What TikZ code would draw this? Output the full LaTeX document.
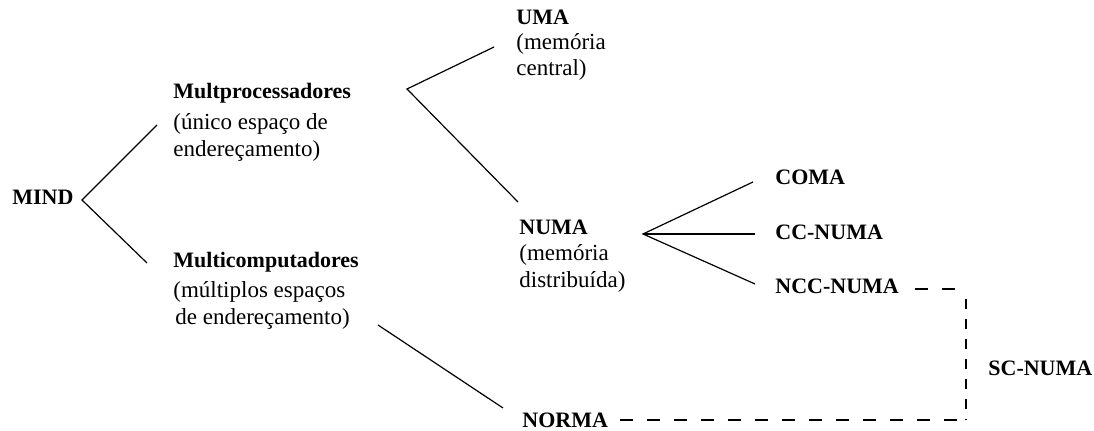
\documentclass[tikz,border=0pt]{standalone}
\usepackage{fontspec}
\setmainfont{Liberation Serif}
\begin{document}
\begin{tikzpicture}[x=0.5pt,y=-0.5pt,
  head/.style={font=\fontsize{11pt}{13.5pt}\selectfont\bfseries, inner sep=0pt, anchor=base west},
  block/.style={font=\fontsize{11.5pt}{13.5pt}\selectfont, inner sep=0pt, anchor=base west, align=left},
  link/.style={line width=0.6pt},
  bridge/.style={line width=0.6pt, dash pattern=on 6.5pt off 7pt},
  bridgeup/.style={line width=0.6pt, dash pattern=on 5pt off 5pt, dash phase=-5pt}]
\useasboundingbox (0,0) rectangle (1094,431);

% labels (multi-line blocks are placed by the baseline of their last line)
\node[head] (mind) at (12,205) {MIND};
\node[block] (mp) at (173,157) {{\bfseries\fontsize{11pt}{13.5pt}\selectfont Multprocessadores}\\[2pt](único espaço de\\endereçamento)};
\node[block] (mc) at (173,325) {{\bfseries\fontsize{11pt}{13.5pt}\selectfont Multicomputadores}\\[1.5pt](múltiplos espaços\\\hspace{1pt}de endereçamento)};
\node[block] (uma) at (516,76) {{\bfseries\fontsize{11pt}{12.5pt}\selectfont UMA}\\[-1pt](memória\\[-0.5pt]central)};
\node[block] (numa) at (519,288) {{\bfseries\fontsize{11pt}{13.5pt}\selectfont NUMA}\\[-0.5pt](memória\\distribuída)};
\node[head] (coma) at (775,185) {COMA};
\node[head] (ccnuma) at (775,240) {CC-NUMA};
\node[head] (nccnuma) at (775,294) {NCC-NUMA};
\node[head] (scnuma) at (988,376) {SC-NUMA};
\node[head] (norma) at (522,428) {NORMA};

% branch points and line ends
\coordinate (mindfork) at (82,200);
\coordinate (mpin) at (157,125);
\coordinate (mcin) at (147,263);
\coordinate (mpfork) at (407,89);
\coordinate (umain) at (494,47);
\coordinate (numain) at (518,202);
\coordinate (mcout) at (378,325);
\coordinate (normain) at (503,408);
\coordinate (numafork) at (643,234);
\coordinate (comain) at (753,182);
\coordinate (ccin) at (755,234);
\coordinate (nccin) at (755,284);
\coordinate (nccout) at (915,289);
\coordinate (bendtop) at (966,289);
\coordinate (bendlow) at (966,420);
\coordinate (normaout) at (620,420);

% tree connectors
\draw[link] (mpin) -- (mindfork) -- (mcin);
\draw[link] (umain) -- (mpfork) -- (numain);
\draw[link] (mcout) -- (normain);
\draw[link] (comain) -- (numafork) -- (nccin);
\draw[link] (numafork) -- (ccin);

% NCC-NUMA and NORMA joined as SC-NUMA
\draw[bridge] (nccout) -- (bendtop);
\draw[bridgeup] (bendtop) -- (bendlow);
\draw[bridge] (normaout) -- (bendlow);
\end{tikzpicture}
\end{document}
